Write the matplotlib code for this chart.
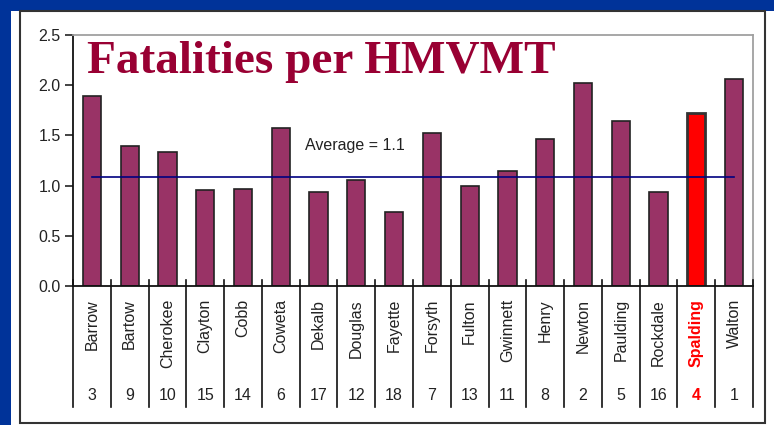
import matplotlib
matplotlib.use("Agg")
import matplotlib.pyplot as plt
from matplotlib.patches import Rectangle
from matplotlib.lines import Line2D
import matplotlib.transforms as mtransforms

counties = ["Barrow", "Bartow", "Cherokee", "Clayton", "Cobb", "Coweta", "Dekalb",
            "Douglas", "Fayette", "Forsyth", "Fulton", "Gwinnett", "Henry", "Newton",
            "Paulding", "Rockdale", "Spalding", "Walton"]
values = [1.89, 1.39, 1.33, 0.96, 0.97, 1.57, 0.94, 1.06, 0.74, 1.52, 1.00, 1.15,
          1.46, 2.02, 1.64, 0.94, 1.72, 2.06]
ranks = [3, 9, 10, 15, 14, 6, 17, 12, 18, 7, 13, 11, 8, 2, 5, 16, 4, 1]
average = 1.09
highlight = "Spalding"
yticks = [0.0, 0.5, 1.0, 1.5, 2.0, 2.5]

W, H = 774, 425
fig = plt.figure(figsize=(W / 100, H / 100), dpi=100)
fig.patch.set_facecolor("#003399")

def fx(px):
    return px / W

def fy(py):
    return 1 - py / H

# white panel
fig.add_artist(Rectangle((fx(11), 0), 1 - fx(11), fy(11), transform=fig.transFigure,
                         facecolor="white", edgecolor="none", zorder=0))
# black frame
fig.add_artist(Rectangle((fx(20), fy(423)), fx(765) - fx(20), fy(11) - fy(423),
                         transform=fig.transFigure, facecolor="none",
                         edgecolor="#333333", lw=1.5, zorder=1))

ax_l, ax_r, ax_t, ax_b = 73, 753, 35, 286
ax = fig.add_axes([fx(ax_l), fy(ax_b), fx(ax_r) - fx(ax_l), fy(ax_t) - fy(ax_b)])
ax.set_facecolor("white")

x = list(range(len(counties)))
colors = ["#FF0000" if c == highlight else "#993366" for c in counties]
lws = [2.0 if c == highlight else 1.2 for c in counties]
edges = ["#333333" if c == highlight else "#222222" for c in counties]
ax.bar(x, values, width=0.48, color=colors, edgecolor=edges, linewidth=lws, zorder=2)

ax.plot([x[0], x[-1]], [average, average], color="#000080", lw=1.2, zorder=3)
ax.text(5.65, 1.40, f"Average = {round(average, 1)}", fontsize=11.5,
        family="Liberation Sans", color="#222222", ha="left", va="center")

ax.set_xlim(-0.5, len(counties) - 0.5)
ax.set_ylim(0, 2.5)
ax.set_yticks(yticks)
ax.set_yticklabels([f"{v:.1f}" for v in yticks], fontsize=11.5, family="Liberation Sans",
                   color="#222222")
ax.tick_params(axis="y", length=6, width=1.2, pad=3, color="#222222")
ax.set_xticks([])

for s in ["left", "bottom"]:
    ax.spines[s].set_color("#111111")
    ax.spines[s].set_linewidth(1.3)
for s in ["top", "right"]:
    ax.spines[s].set_color("#A0A0A0")
    ax.spines[s].set_linewidth(1.3)

# table separators below the axis
trans = mtransforms.blended_transform_factory(ax.transData, ax.transAxes)
axh = ax_b - ax_t
y_top = (ax_b - 280) / axh
y_bot = -(407 - ax_b) / axh
for i in range(len(counties) + 1):
    ax.add_line(Line2D([i - 0.5, i - 0.5], [y_top, y_bot], transform=trans,
                       color="#111111", lw=1.2, clip_on=False, zorder=4))

y_name = -(299 - ax_b) / axh
y_rank = -(395 - ax_b) / axh
for i, (c, r) in enumerate(zip(counties, ranks)):
    hl = c == highlight
    ax.text(i, y_name, c, rotation=90, ha="center", va="top", transform=trans,
            fontsize=11.5, family="Liberation Sans",
            color="#FF0000" if hl else "#222222",
            fontweight="bold" if hl else "normal")
    ax.text(i, y_rank, str(r), ha="center", va="center", transform=trans,
            fontsize=11.5, family="Liberation Sans",
            color="#FF0000" if hl else "#222222",
            fontweight="bold" if hl else "normal")

fig.text(fx(87), fy(62), "Fatalities per HMVMT", fontsize=34, family="Liberation Serif",
         fontweight="bold", color="#990033", ha="left", va="center")

fig.savefig("out.png", dpi=100, facecolor=fig.get_facecolor())
